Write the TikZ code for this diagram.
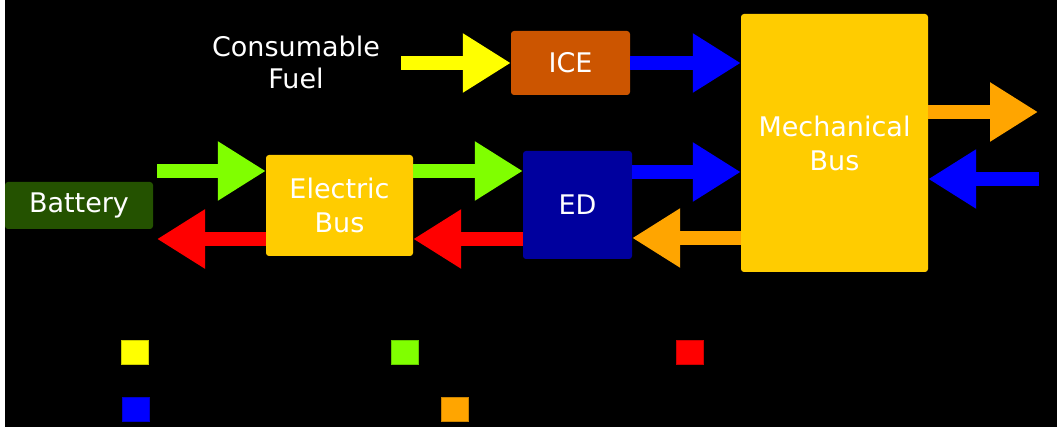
\documentclass[tikz,border=0pt]{standalone}
\usepackage{fontspec}
\setmainfont{DejaVu Sans}
\usetikzlibrary{arrows.meta}
\definecolor{cgold}{HTML}{FFCC00}
\definecolor{cgreenbat}{HTML}{245200}
\definecolor{cice}{HTML}{CC5500}
\definecolor{ced}{HTML}{00009E}
\definecolor{cyel}{HTML}{FFFF00}
\definecolor{cgrn}{HTML}{80FF00}
\definecolor{cred}{HTML}{FF0000}
\definecolor{cblu}{HTML}{0000FF}
\definecolor{cora}{HTML}{FFA500}
\tikzset{
  box/.style={rounded corners=3pt, inner sep=0pt, text=white, align=center,
    font=\fontsize{27pt}{34pt}\selectfont},
  fat/.style={line width=14pt, -{Triangle[length=48pt,width=56pt]}},
  legsq/.style={minimum width=27pt, minimum height=24pt, inner sep=0pt, line width=0.6pt},
}
\begin{document}
\begin{tikzpicture}[x=1pt,y=-1pt]
\useasboundingbox (0,0) rectangle (1057,427);
\fill[white] (0,0) rectangle (1057,427);
\fill[black] (5,0) rectangle (1057,427);

% boxes
\node[box, fill=cgreenbat, minimum width=148pt, minimum height=47pt] (bat) at (79,205.5) {Battery};
\node[box, fill=cgold, minimum width=147pt, minimum height=101pt] (ebus) at (339.5,205.5) {Electric\\Bus};
\node[box, fill=ced, minimum width=109pt, minimum height=108pt] (ed) at (577.5,205) {ED};
\node[box, fill=cice, minimum width=119pt, minimum height=64pt] (ice) at (570.5,63) {ICE};
\node[box, fill=cgold, minimum width=187pt, minimum height=258pt] (mech) at (834.5,143) {Mechanical\\Bus};
\node[text=white, align=center, inner sep=0pt, font=\fontsize{27pt}{32pt}\selectfont] (fuel) at (296,62) {Consumable\\Fuel};

% free ends
\coordinate (ys) at (401,63);
\coordinate (g1s) at (157,171);
\coordinate (r1e) at (157,239);
\coordinate (g2) at (0,171);
\coordinate (r2) at (0,239);
\coordinate (b2) at (0,172);
\coordinate (o2) at (0,238);
\coordinate (oout) at (1038,112);
\coordinate (bin) at (1039,179);

% arrows
\draw[fat, cyel] (ys) -- (ice.west);
\draw[fat, cblu] (ice.east) -- (mech.west |- ice.east);
\draw[fat, cgrn] (g1s) -- (ebus.west |- g1s);
\draw[fat, cred] (ebus.west |- r1e) -- (r1e);
\draw[fat, cgrn] (ebus.east |- g2) -- (ed.west |- g2);
\draw[fat, cred] (ed.west |- r2) -- (ebus.east |- r2);
\draw[fat, cblu] (ed.east |- b2) -- (mech.west |- b2);
\draw[fat, cora] (mech.west |- o2) -- (ed.east |- o2);
\draw[fat, cora] (mech.east |- oout) -- (oout);
\draw[fat, cblu] (bin) -- (mech.east |- bin);

% legend
\node[legsq, fill=cyel, draw=cyel!80!black] (l1) at (134.5,352) {};
\node[legsq, fill=cgrn, draw=cgrn!80!black] (l2) at (404.5,352) {};
\node[legsq, fill=cred, draw=cred!80!black] (l3) at (689.5,352) {};
\node[legsq, fill=cblu, draw=cblu!80!black] (l4) at (135.5,409) {};
\node[legsq, fill=cora, draw=cora!80!black] (l5) at (454.5,409) {};
\end{tikzpicture}
\end{document}
